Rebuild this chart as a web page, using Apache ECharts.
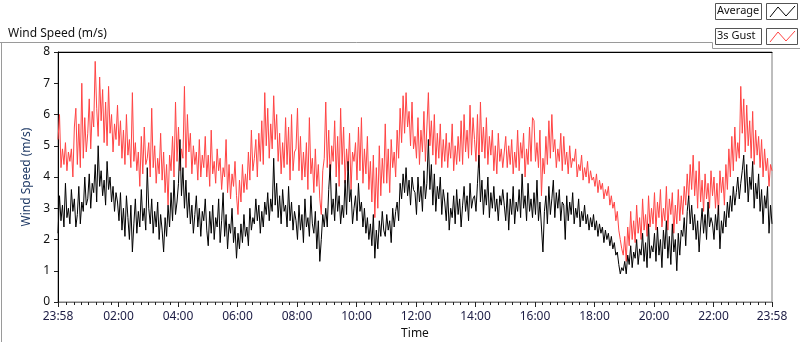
<!DOCTYPE html>
<html>
<head>
<meta charset="utf-8">
<title>Wind Speed</title>
<script src="https://cdn.jsdelivr.net/npm/echarts@6/dist/echarts.min.js"></script>
<style>
  html, body { margin: 0; padding: 0; background: #fff; }
  #windChart { width: 800px; height: 342px; }
</style>
</head>
<body>
<div id="windChart"></div>
<script>
// one value every 3 min, starting 23:58 (one row = one hour)
var gust = [
  5.2, 6.0, 4.3, 4.9, 4.4, 5.1, 4.2, 4.8, 4.5, 4.9, 4.0, 5.6, 6.2, 4.4, 5.7, 4.3, 7.0, 4.6, 5.9, 4.8,
  5.4, 6.5, 4.9, 6.1, 5.6, 7.7, 6.2, 5.3, 7.2, 5.8, 6.8, 5.1, 6.4, 5.0, 6.9, 5.4, 6.0, 4.8, 5.7, 5.2,
  6.3, 5.0, 5.8, 4.6, 5.5, 4.4, 6.0, 4.7, 5.2, 4.3, 6.7, 4.5, 5.1, 4.2, 4.8, 3.7, 5.3, 4.1, 5.6, 4.4,
  4.6, 5.1, 4.0, 6.2, 4.3, 5.0, 3.8, 4.6, 4.1, 5.4, 3.9, 4.8, 3.5, 4.4, 3.1, 4.7, 4.2, 5.3, 4.0, 6.4,
  4.5, 5.6, 4.2, 4.9, 4.6, 6.9, 4.3, 6.0, 4.8, 5.4, 4.1, 5.0, 4.4, 4.8, 3.9, 5.2, 4.0, 4.7, 4.3, 5.3,
  4.0, 4.7, 3.7, 5.5, 4.1, 4.5, 3.8, 4.9, 4.2, 4.6, 3.6, 4.3, 4.0, 5.2, 3.5, 4.4, 3.3, 4.1, 3.7, 4.5,
  3.4, 2.8, 3.9, 3.2, 4.4, 3.5, 4.1, 3.6, 4.8, 3.9, 5.5, 4.2, 4.6, 5.2, 4.0, 5.4, 4.5, 5.8, 4.4, 6.7,
  5.0, 6.2, 4.6, 5.7, 4.9, 6.6, 5.2, 6.0, 4.5, 5.4, 4.1, 5.1, 4.3, 5.9, 4.4, 5.6, 3.9, 6.0, 4.2, 4.8,
  4.9, 6.2, 4.2, 5.3, 3.9, 4.8, 4.0, 5.1, 3.6, 5.9, 4.1, 4.6, 3.5, 4.9, 3.7, 4.4, 3.3, 2.8, 4.2, 4.6,
  6.4, 4.3, 5.5, 3.9, 5.0, 4.5, 5.8, 4.0, 5.3, 3.7, 6.2, 4.4, 5.6, 3.8, 4.9, 4.2, 5.4, 3.6, 4.8, 4.5,
  5.1, 3.9, 5.6, 4.2, 5.9, 3.8, 4.9, 4.1, 5.3, 3.6, 4.5, 3.2, 4.7, 2.7, 4.3, 3.0, 5.0, 3.4, 4.6, 3.8,
  5.7, 3.8, 4.9, 3.5, 5.2, 4.3, 4.8, 4.0, 5.5, 4.6, 6.2, 5.1, 6.6, 5.4, 6.7, 5.6, 6.1, 5.0, 6.4, 4.9,
  5.3, 4.6, 5.9, 4.4, 5.5, 4.8, 6.1, 4.5, 5.6, 6.7, 5.0, 5.8, 4.7, 6.0, 4.4, 5.4, 4.6, 5.7, 4.3, 5.2,
  4.5, 5.4, 4.3, 5.1, 4.6, 5.7, 4.2, 5.0, 4.4, 5.3, 4.5, 5.8, 4.4, 6.0, 4.8, 5.5, 4.6, 6.3, 4.7, 5.9,
  5.2, 4.5, 6.0, 4.3, 6.4, 4.8, 5.6, 4.6, 5.9, 4.4, 5.3, 4.7, 5.5, 4.2, 5.0, 4.1, 5.4, 4.5, 4.9, 4.3,
  4.8, 5.3, 4.3, 5.0, 4.4, 5.2, 4.1, 4.8, 4.3, 5.5, 4.2, 5.1, 4.6, 5.4, 4.0, 4.9, 4.4, 5.6, 4.5, 5.9,
  5.8, 4.5, 5.1, 4.3, 5.5, 3.4, 4.6, 4.1, 5.3, 4.4, 5.8, 4.6, 6.0, 4.8, 5.2, 4.3, 4.9, 4.5, 5.4, 4.2,
  5.3, 4.4, 4.8, 4.1, 5.0, 4.3, 4.6, 4.5, 4.9, 4.0, 4.4, 4.2, 4.7, 3.9, 4.3, 4.0, 4.5, 3.8, 4.2, 3.9,
  4.0, 3.7, 4.1, 3.5, 3.9, 3.6, 3.8, 3.3, 3.6, 3.4, 3.7, 3.1, 3.4, 3.0, 3.2, 2.6, 2.9, 2.3, 2.0, 1.7,
  1.5, 2.1, 1.3, 2.4, 1.8, 2.9, 2.0, 2.6, 1.9, 3.1, 2.2, 2.7, 2.0, 3.3, 2.3, 2.8, 2.1, 3.4, 2.4, 3.0,
  2.5, 3.5, 2.3, 3.2, 2.7, 3.6, 2.4, 3.0, 2.6, 3.7, 2.3, 3.3, 2.8, 3.5, 2.2, 3.1, 2.5, 3.6, 2.6, 3.4,
  2.8, 3.7, 3.1, 4.1, 3.3, 4.4, 3.6, 4.7, 3.4, 4.2, 3.0, 4.5, 3.2, 3.9, 2.9, 4.1, 3.3, 3.8, 3.0, 4.2,
  3.4, 4.0, 3.0, 3.8, 2.8, 4.2, 3.5, 4.0, 3.1, 4.4, 3.6, 4.9, 4.0, 5.3, 4.2, 5.6, 4.5, 5.1, 4.6, 6.9,
  5.4, 6.5, 4.8, 6.3, 5.0, 5.8, 4.6, 6.1, 4.4, 5.5, 4.7, 5.3, 4.3, 5.2, 4.0, 4.9, 4.2, 4.6, 3.7, 4.4,
  4.2
];
var average = [
  2.2, 3.4, 2.6, 3.1, 2.4, 3.8, 2.7, 3.0, 2.5, 3.6, 2.9, 3.3, 2.4, 2.8, 3.7, 2.5, 3.2, 2.9, 4.0, 3.1,
  3.3, 4.1, 3.0, 3.8, 3.5, 4.4, 3.2, 5.0, 3.7, 4.2, 3.4, 3.9, 3.1, 4.5, 3.6, 4.0, 3.2, 3.7, 2.9, 3.5,
  3.2, 2.6, 3.5, 2.3, 3.0, 2.1, 3.4, 2.7, 2.0, 3.1, 1.6, 2.5, 3.3, 2.2, 2.9, 2.4, 3.6, 2.6, 3.0, 2.3,
  4.3, 3.0, 2.5, 3.3, 2.2, 2.9, 2.4, 3.2, 2.0, 2.8, 2.3, 1.6, 2.7, 2.1, 3.1, 2.4, 3.5, 2.6, 3.9, 2.8,
  3.2, 3.8, 5.2, 3.4, 4.3, 3.0, 3.9, 2.7, 3.5, 2.5, 3.1, 2.2, 2.8, 3.4, 2.4, 3.0, 2.1, 2.9, 2.6, 3.3,
  2.3, 1.8, 2.9, 2.2, 3.1, 2.0, 2.7, 2.4, 3.3, 1.9, 2.6, 3.5, 2.1, 2.8, 1.7, 2.5, 2.2, 3.0, 1.9, 2.4,
  1.4, 2.2, 1.7, 2.5, 1.9, 2.8, 2.1, 2.4, 1.8, 3.0, 2.3, 2.7, 2.5, 3.3, 2.6, 3.1, 2.2, 2.9, 2.4, 3.2,
  2.8, 3.5, 2.6, 3.3, 2.9, 4.6, 3.1, 3.8, 2.7, 3.4, 2.5, 3.6, 2.9, 3.1, 2.4, 3.7, 2.6, 3.2, 2.3, 2.9,
  2.6, 2.0, 3.1, 2.3, 2.8, 1.9, 3.3, 2.4, 2.7, 2.1, 3.4, 2.5, 2.2, 2.9, 1.7, 2.6, 1.3, 2.0, 2.8, 2.4,
  3.0, 2.4, 3.6, 4.4, 2.8, 3.3, 2.6, 3.8, 2.9, 3.4, 2.5, 3.1, 2.7, 3.9, 2.8, 4.5, 3.2, 3.6, 2.5, 3.0,
  3.4, 2.6, 3.8, 2.9, 3.2, 2.4, 3.0, 2.2, 2.7, 2.0, 2.5, 1.8, 2.8, 1.4, 2.3, 1.7, 2.6, 2.1, 2.9, 2.3,
  2.1, 2.8, 2.3, 2.6, 1.9, 3.0, 2.4, 2.9, 3.2, 2.6, 3.8, 3.3, 4.1, 3.5, 4.3, 3.4, 3.9, 3.1, 4.0, 3.6,
  3.5, 2.8, 4.0, 3.2, 3.7, 2.9, 4.2, 3.3, 3.8, 5.2, 3.6, 4.4, 3.1, 4.1, 2.9, 3.7, 3.3, 4.0, 2.8, 3.6,
  3.2, 2.6, 3.5, 2.3, 3.0, 2.7, 3.4, 2.5, 3.6, 2.8, 3.3, 2.4, 3.1, 3.7, 2.9, 3.4, 2.6, 3.8, 3.0, 3.3,
  3.4, 2.9, 3.8, 4.7, 3.2, 3.9, 2.8, 3.6, 3.1, 4.0, 2.7, 3.5, 3.0, 3.7, 2.9, 3.3, 2.6, 3.4, 3.1, 3.6,
  3.1, 2.6, 3.5, 2.3, 3.3, 2.8, 3.7, 2.5, 3.2, 2.9, 3.6, 2.7, 4.1, 3.0, 3.4, 2.6, 3.8, 2.9, 3.3, 2.7,
  3.5, 2.8, 3.9, 2.6, 3.2, 2.4, 1.6, 2.9, 3.4, 2.5, 3.7, 2.8, 3.3, 3.9, 2.7, 3.5, 3.0, 3.6, 2.6, 3.2,
  3.1, 2.0, 3.4, 2.6, 3.2, 2.8, 3.5, 2.5, 3.0, 2.7, 3.3, 2.4, 2.9, 2.6, 3.1, 2.5, 2.8, 2.3, 2.7, 2.4,
  2.8, 2.3, 2.6, 2.1, 2.5, 2.2, 2.4, 1.9, 2.3, 2.0, 2.2, 1.8, 2.1, 1.7, 1.9, 1.5, 1.6, 1.2, 0.9, 1.1,
  1.0, 1.3, 0.9, 1.5, 1.2, 1.8, 1.1, 1.6, 1.4, 2.0, 1.2, 1.7, 1.5, 2.2, 1.3, 1.9, 1.1, 2.5, 1.4, 1.8,
  1.6, 2.2, 1.3, 2.4, 1.5, 2.0, 1.1, 2.3, 1.7, 2.6, 1.4, 2.1, 1.2, 2.5, 1.6, 2.0, 1.0, 2.2, 1.5, 2.3,
  2.1, 2.7, 1.8, 2.9, 3.4, 2.5, 3.1, 2.3, 2.8, 2.0, 2.6, 1.6, 2.4, 3.0, 2.2, 2.8, 2.0, 3.2, 2.4, 2.7,
  2.5, 2.0, 2.8, 2.3, 3.1, 1.7, 2.6, 2.2, 2.9, 2.4, 3.2, 2.7, 3.4, 2.9, 3.7, 3.1, 3.5, 4.0, 3.3, 3.8,
  4.2, 4.7, 3.5, 4.4, 3.2, 4.0, 3.6, 4.5, 3.0, 3.8, 3.3, 4.1, 2.9, 3.6, 2.5, 3.4, 3.0, 3.7, 2.2, 3.1,
  2.5
];
// major ticks: minutes after 23:58
var majorTicks = [0, 122, 242, 362, 482, 602, 722, 842, 962, 1082, 1202, 1322, 1440];
var timeLabels = ['23:58', '02:00', '04:00', '06:00', '08:00', '10:00', '12:00',
  '14:00', '16:00', '18:00', '20:00', '22:00', '23:58'];
var stepMin = 3;

var FONT = 'Noto Sans';

function toPairs(arr) {
  return arr.map(function (v, i) { return [i * stepMin, v]; });
}

// minor ticks every quarter hour on the clock
var minorTicks = [];
for (var k = 1; k < 96; k++) {
  if ((k * 15) % 120 !== 0) minorTicks.push(k * 15 + 2);
}

var myChart = echarts.init(document.getElementById('windChart'), null, { renderer: 'canvas' });

var option = {
  animation: false,
  backgroundColor: '#fff',
  textStyle: { fontFamily: FONT },
  title: {
    text: 'Wind Speed (m/s)',
    left: 3, top: 23,
    textStyle: { fontFamily: FONT, fontSize: 12, fontWeight: 'normal', color: '#111' }
  },
  grid: {
    left: 58, right: 28, top: 52, bottom: 40,
    containLabel: false, outerBoundsMode: 'none',
    show: true, backgroundColor: '#fff', borderColor: '#7c7c7c', borderWidth: 1
  },
  xAxis: [{
    type: 'value', min: 0, max: 1440,
    name: 'Time', nameLocation: 'middle', nameGap: 26,
    nameTextStyle: { fontFamily: FONT, fontSize: 12, color: '#111' },
    axisLine: { show: true, lineStyle: { color: '#7c7c7c' } },
    axisTick: { show: true, length: 5, customValues: majorTicks, lineStyle: { color: '#222' } },
    axisLabel: {
      customValues: majorTicks, margin: 9, fontSize: 12, fontFamily: FONT, color: '#1c1c44',
      formatter: function (v) { return timeLabels[majorTicks.indexOf(v)] || ''; }
    },
    splitLine: { show: false }
  }, {
    // minor ticks
    type: 'value', min: 0, max: 1440, position: 'bottom',
    axisLine: { show: false },
    axisTick: { show: true, length: 3, customValues: minorTicks, lineStyle: { color: '#222' } },
    axisLabel: { show: false },
    splitLine: { show: false }
  }, {
    // dark top edge of the plot
    type: 'value', min: 0, max: 1440, position: 'top',
    axisLine: { show: true, lineStyle: { color: '#000' } },
    axisTick: { show: false }, axisLabel: { show: false }, splitLine: { show: false }
  }],
  yAxis: {
    type: 'value', min: 0, max: 8, interval: 1,
    name: 'Wind Speed (m/s)', nameLocation: 'middle', nameGap: 22,
    nameTextStyle: { fontFamily: FONT, fontSize: 12, color: '#1f3a66' },
    axisLine: { show: true, lineStyle: { color: '#000' } },
    axisTick: { show: true, length: 4, lineStyle: { color: '#222' } },
    axisLabel: { margin: 8, fontSize: 12, fontFamily: FONT, color: '#111' },
    splitLine: { show: false }
  },
  series: [{
    name: '3s Gust', type: 'line', data: toPairs(gust),
    showSymbol: false, symbol: 'none',
    lineStyle: { color: '#ff4444', width: 1 }, itemStyle: { color: '#ff4444' }
  }, {
    name: 'Average', type: 'line', data: toPairs(average),
    showSymbol: false, symbol: 'none',
    lineStyle: { color: '#000', width: 1 }, itemStyle: { color: '#000' }
  }],
  // panel frame and plot legend (LabVIEW style)
  graphic: [
    { type: 'polyline', silent: true, shape: { points: [[0, 42.5], [712.5, 42.5], [712.5, 48.5], [800, 48.5]] },
      style: { stroke: '#9a9a9a', lineWidth: 1, fill: null } },
    { type: 'line', silent: true, shape: { x1: 1.5, y1: 42, x2: 1.5, y2: 342 },
      style: { stroke: '#9a9a9a', lineWidth: 1 } },
    { type: 'rect', shape: { x: 715.5, y: 3.5, width: 46, height: 16 },
      style: { fill: '#fff', stroke: '#555', lineWidth: 1 } },
    { type: 'text', x: 717, y: 5,
      style: { text: 'Average', font: '11px "Noto Sans"', fill: '#111' } },
    { type: 'rect', shape: { x: 766.5, y: 3.5, width: 31, height: 16 },
      style: { fill: '#fff', stroke: '#555', lineWidth: 1 } },
    { type: 'polyline', shape: { points: [[770, 17], [778, 7], [786, 16], [795, 6]] },
      style: { stroke: '#000', lineWidth: 1, fill: null } },
    { type: 'rect', shape: { x: 715.5, y: 28.5, width: 46, height: 16 },
      style: { fill: '#fff', stroke: '#555', lineWidth: 1 } },
    { type: 'text', x: 717, y: 30,
      style: { text: '3s Gust', font: '11px "Noto Sans"', fill: '#111' } },
    { type: 'rect', shape: { x: 766.5, y: 28.5, width: 31, height: 16 },
      style: { fill: '#fff', stroke: '#555', lineWidth: 1 } },
    { type: 'polyline', shape: { points: [[770, 42], [778, 32], [786, 41], [795, 31]] },
      style: { stroke: '#ff4444', lineWidth: 1, fill: null } }
  ]
};

myChart.setOption(option);
</script>
</body>
</html>
